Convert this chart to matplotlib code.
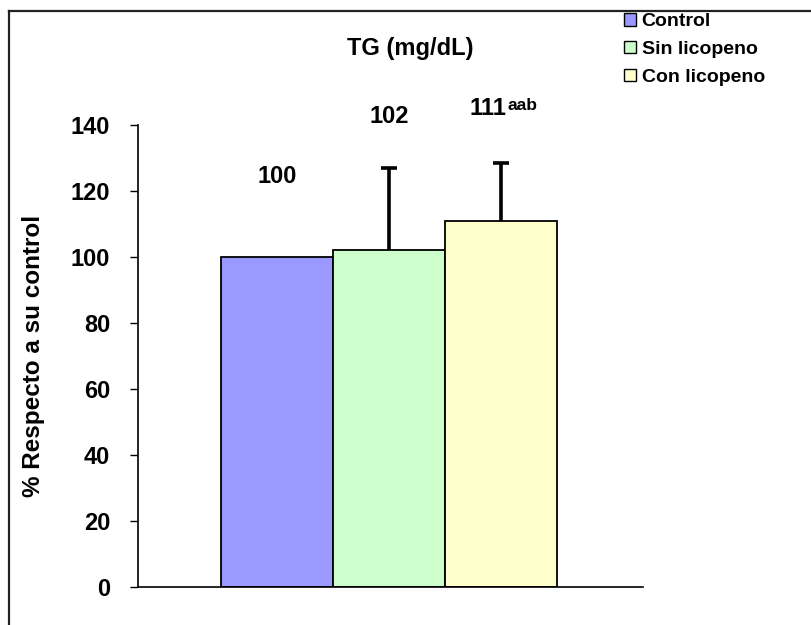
import matplotlib
matplotlib.use("Agg")
import matplotlib.pyplot as plt
from matplotlib.patches import Patch
from matplotlib.lines import Line2D

plt.rcParams['font.family'] = ['Liberation Sans', 'DejaVu Sans']
plt.rcParams['font.weight'] = 'bold'

# Data
groups = ["Control", "Sin licopeno", "Con licopeno"]
values = [100, 102, 111]
errors = [0, 25, 17.5]
value_labels = ["100", "102", "111"]
superscripts = ["", "", "aab"]
colors = ["#9999ff", "#ccffcc", "#ffffcc"]
yticks = [0, 20, 40, 60, 80, 100, 120, 140]

# Heights (in data units) at which the value labels sit
label_y = [124.5, 142.5, 145.0]

fig = plt.figure(figsize=(8.12, 6.25), dpi=100)
ax = fig.add_axes([0.170, 0.0608, 0.622, 0.739])

x = list(range(len(groups)))
ax.bar(x, values, width=1.0, color=colors, edgecolor="black",
       linewidth=1.3, zorder=2)

# Upper-only error bars with a single cap at the top
for xi, v, e in zip(x, values, errors):
    if e > 0:
        ax.vlines(xi, v, v + e, colors="black", linewidth=2.6, zorder=3)
        ax.plot([xi], [v + e], marker="_", markersize=12, markeredgewidth=2.6,
                color="black", zorder=3)

ax.set_xlim(-1.241, 3.268)
ax.set_ylim(0, 140)
ax.set_yticks(yticks)
ax.set_xticks([])
ax.tick_params(axis="y", direction="out", length=6, width=1,
               labelsize=17, pad=14)
for lab in ax.get_yticklabels():
    lab.set_fontweight("bold")
for s in ("top", "right"):
    ax.spines[s].set_visible(False)
ax.spines["left"].set_linewidth(1.2)
ax.spines["bottom"].set_linewidth(1.2)

ax.set_ylabel("% Respecto a su control", fontsize=17.5, fontweight="bold")
ax.yaxis.set_label_coords(-0.184, 0.5)

# Value labels above the bars
for xi, txt, sup, ly in zip(x, value_labels, superscripts, label_y):
    if sup:
        t = ax.text(xi + 0.045, ly, txt, ha="right", va="center",
                    fontsize=17, fontweight="bold")
        ax.annotate(sup, xy=(1.03, 0.95), xycoords=t, ha="left", va="top",
                    fontsize=12.5, fontweight="bold")
    else:
        ax.text(xi, ly, txt, ha="center", va="center",
                fontsize=17, fontweight="bold")

fig.text(0.505, 0.923, "TG (mg/dL)", ha="center", va="center",
         fontsize=17, fontweight="bold")

handles = [Patch(facecolor=c, edgecolor="black", linewidth=1.0) for c in colors]
fig.legend(handles, groups, loc="upper left", bbox_to_anchor=(0.759, 0.991),
           frameon=False, prop={"weight": "bold", "size": 14},
           handlelength=0.6, handleheight=0.6, handletextpad=0.3,
           labelspacing=0.55, borderaxespad=0.0)

# Outer frame lines
fig.add_artist(Line2D([0.011, 1.0], [0.9824, 0.9824], color="#222222",
                      linewidth=1.6, transform=fig.transFigure))
fig.add_artist(Line2D([0.011, 0.011], [0.0, 0.9824], color="#222222",
                      linewidth=1.6, transform=fig.transFigure))

fig.savefig("out.png", dpi=100)
